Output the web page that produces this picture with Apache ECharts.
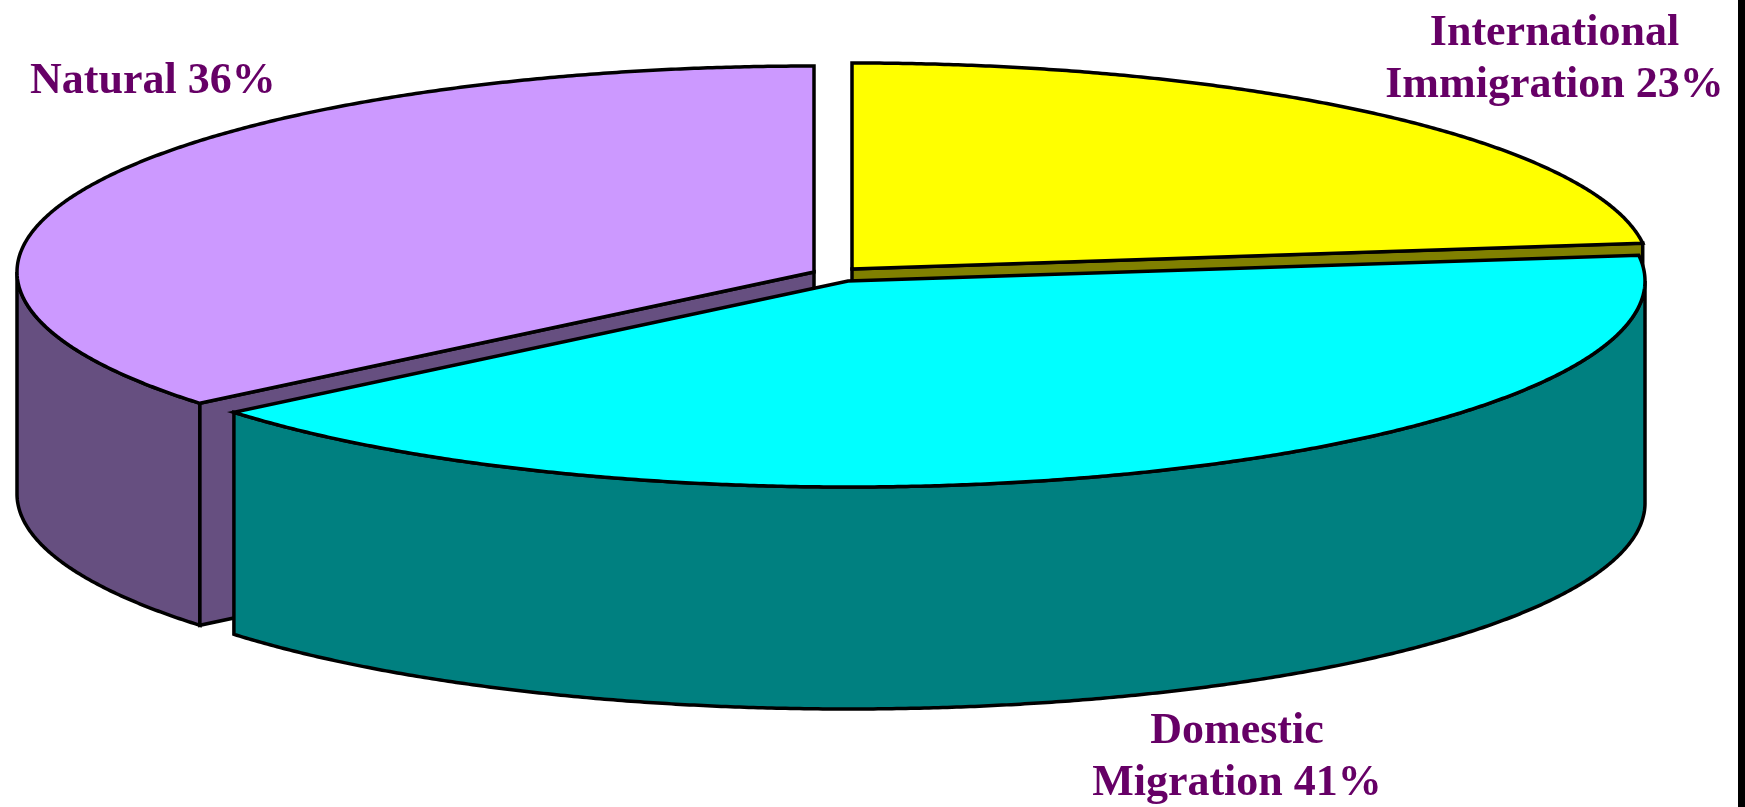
<!DOCTYPE html>
<html>
<head>
<meta charset="utf-8">
<title>Population change</title>
<style>
    html, body { margin: 0; padding: 0; background: #fff; }
    #chartDiv { width: 1745px; height: 807px; }
</style>
<script src="https://cdn.jsdelivr.net/npm/echarts@6/dist/echarts.min.js"></script>
</head>
<body>
<div id="chartDiv"></div>
<script>
// order = going clockwise from 12 o'clock
var categories = ['International Immigration', 'Domestic Migration', 'Natural'];
var shares = [23, 41, 36];
var labelLines = [
    ['International', 'Immigration 23%'],
    ['Domestic', 'Migration 41%'],
    ['Natural 36%']
];
var topColors = ['#ffff00', '#00ffff', '#cc99ff'];
var sideColors = ['#808000', '#008080', '#664f80'];

// drawing layout, not data
var radiusX = 797, radiusY = 206, depth = 222;
var sliceCenters = [[852, 269], [848, 281], [814, 272]];
var labelAnchors = [[1554.5, 12], [1237, 710], [30, 60]];
var labelAlign = ['center', 'center', 'left'];
var labelGap = 52;
var drawOrder = [1, 3, 2];   // cyan slice sits over the other two

var total = shares.reduce(function (a, b) { return a + b; }, 0);

function arcPoints(center, from, to, offset) {
    var pts = [];
    var steps = Math.max(2, Math.ceil((to - from) * 3));
    for (var i = 0; i <= steps; i++) {
        var a = (from + (to - from) * i / steps) * Math.PI / 180;
        pts.push([center[0] + radiusX * Math.sin(a), center[1] - radiusY * Math.cos(a) + offset]);
    }
    return pts;
}

function poly(points, fill, z2) {
    return {
        type: 'polygon',
        z2: z2,
        shape: { points: points },
        style: { fill: fill, stroke: '#000', lineWidth: 3.5, lineJoin: 'miter' }
    };
}

function renderSlice(params, api) {
    var i = params.dataIndex;
    var before = 0;
    for (var k = 0; k < i; k++) {
        before += shares[k];
    }
    var start = before / total * 360;
    var end = start + api.value(0) / total * 360;
    var c = sliceCenters[i];
    var z = drawOrder[i] * 10;
    var children = [];

    // the rim, only the part facing the viewer
    var frontFrom = Math.max(start, 90), frontTo = Math.min(end, 270);
    if (frontTo - frontFrom > 10) {
        var rim = arcPoints(c, frontFrom, frontTo, 0)
            .concat(arcPoints(c, frontFrom, frontTo, depth).reverse());
        children.push(poly(rim, sideColors[i], z));
    }
    // cut faces that look down towards the viewer
    var cutAngle = null;
    if (end < 90) {
        cutAngle = end;
    } else if (start > 180) {
        cutAngle = start;
    }
    if (cutAngle !== null) {
        var edge = arcPoints(c, cutAngle, cutAngle + 0.001, 0)[0];
        children.push(poly([
            c, edge, [edge[0], edge[1] + depth], [c[0], c[1] + depth]
        ], sideColors[i], z));
    }
    // top surface
    children.push(poly([c].concat(arcPoints(c, start, end, 0)), topColors[i], z + 1));

    labelLines[i].forEach(function (line, n) {
        children.push({
            type: 'text',
            z2: 100,
            style: {
                text: line,
                x: labelAnchors[i][0],
                y: labelAnchors[i][1] + n * labelGap,
                fill: '#660066',
                font: 'bold 44px "Liberation Serif", "Times New Roman", serif',
                align: labelAlign[i],
                verticalAlign: 'top'
            }
        });
    });
    return { type: 'group', children: children };
}

var myChart = echarts.init(document.getElementById('chartDiv'));
myChart.setOption({
    animation: false,
    backgroundColor: '#ffffff',
    graphic: [{
        type: 'rect',
        shape: { x: 1738, y: 0, width: 7, height: 807 },
        style: { fill: '#000' }
    }],
    series: [{
        type: 'custom',
        coordinateSystem: 'none',
        clip: false,
        renderItem: renderSlice,
        data: shares.map(function (v, i) {
            return { name: categories[i], value: [v] };
        })
    }]
});
</script>
</body>
</html>
